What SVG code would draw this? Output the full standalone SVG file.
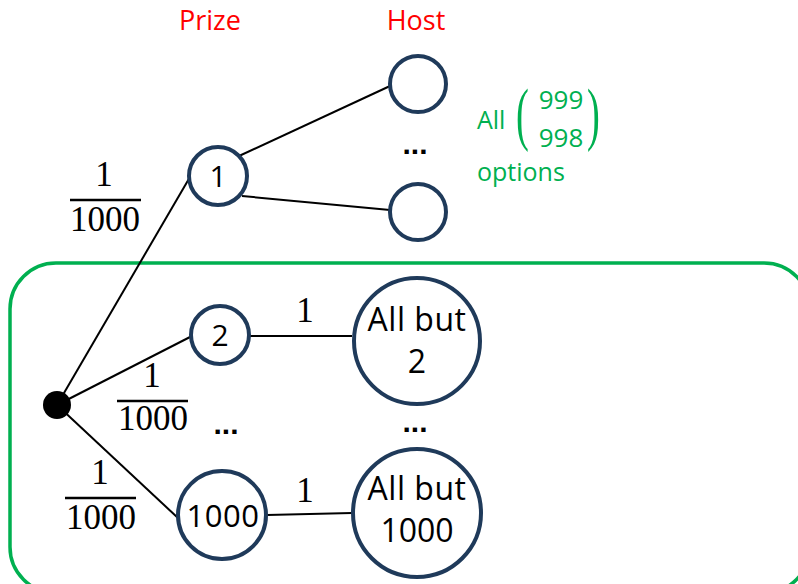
<svg xmlns="http://www.w3.org/2000/svg" width="798" height="584" viewBox="0 0 798 584">
  <style>
    .node { fill: #ffffff; stroke: #1f3a5a; stroke-width: 4; }
    .edge { stroke: #000000; stroke-width: 2; fill: none; }
    .lbl { font-family: "Open Sans", "Liberation Sans", sans-serif; fill: #000000; text-anchor: middle; }
    .head { font-family: "Open Sans", "Liberation Sans", sans-serif; fill: #ff0000; font-size: 27px; text-anchor: middle; }
    .math { font-family: "Liberation Serif", serif; fill: #000000; font-size: 35px; text-anchor: middle; }
    .bar { stroke: #000000; stroke-width: 2.5; }
    .dots { font-family: "Liberation Sans", sans-serif; font-weight: bold; font-size: 30px; text-anchor: middle; fill: #000000; }
    .green { font-family: "Open Sans", "Liberation Sans", sans-serif; fill: #00b050; }
    .paren { font-family: "Liberation Serif", serif; fill: #00b050; font-size: 70px; }
  </style>

  <!-- column headings -->
  <text class="head" x="210" y="30">Prize</text>
  <text class="head" x="416" y="30">Host</text>

  <!-- group frame for prize doors 2..1000 -->
  <rect x="10" y="263" width="800" height="330" rx="46" ry="46" fill="none" stroke="#00b050" stroke-width="3.5"/>

  <!-- connectors -->
  <g id="connectors">
    <line class="edge" x1="57" y1="405" x2="190" y2="177"/>
    <line class="edge" x1="57" y1="405" x2="192" y2="336"/>
    <line class="edge" x1="57" y1="405" x2="178" y2="518"/>
    <line class="edge" x1="239" y1="156" x2="390" y2="86"/>
    <line class="edge" x1="242" y1="196" x2="390" y2="210"/>
    <line class="edge" x1="248" y1="336" x2="352" y2="336"/>
    <line class="edge" x1="267" y1="515" x2="352" y2="513"/>
  </g>

  <!-- probabilities -->
  <g id="prob-1">
    <text class="math" x="104" y="186">1</text>
    <line class="bar" x1="70" y1="200" x2="141" y2="200"/>
    <text class="math" x="105" y="231">1000</text>
  </g>
  <g id="prob-2">
    <text class="math" x="152" y="387">1</text>
    <line class="bar" x1="117" y1="401" x2="188" y2="401"/>
    <text class="math" x="153" y="430">1000</text>
  </g>
  <g id="prob-1000">
    <text class="math" x="100" y="484">1</text>
    <line class="bar" x1="65" y1="498" x2="136" y2="498"/>
    <text class="math" x="101" y="529">1000</text>
  </g>
  <text class="math" x="305" y="322">1</text>
  <text class="math" x="305" y="502">1</text>

  <!-- nodes -->
  <g id="root"><circle cx="57" cy="405" r="14" fill="#000000"/></g>
  <g id="prize-1">
    <circle class="node" cx="218" cy="176" r="29"/>
    <text class="lbl" x="218" y="187" font-size="30">1</text>
  </g>
  <g id="host-a"><circle class="node" cx="418" cy="84" r="28"/></g>
  <g id="host-b"><circle class="node" cx="418" cy="212" r="28"/></g>
  <g id="prize-2">
    <circle class="node" cx="220" cy="335" r="29"/>
    <text class="lbl" x="220" y="346" font-size="30">2</text>
  </g>
  <g id="prize-1000">
    <circle class="node" cx="222" cy="515" r="44"/>
    <text class="lbl" x="223" y="527" font-size="31" letter-spacing="0.5">1000</text>
  </g>
  <g id="host-2">
    <circle class="node" cx="417" cy="341" r="63"/>
    <text class="lbl" x="417" y="331" font-size="32" letter-spacing="0.5">All but</text>
    <text class="lbl" x="417" y="373" font-size="32">2</text>
  </g>
  <g id="host-1000">
    <circle class="node" cx="417" cy="513" r="64"/>
    <text class="lbl" x="417" y="500" font-size="32" letter-spacing="0.5">All but</text>
    <text class="lbl" x="417" y="542" font-size="32">1000</text>
  </g>

  <!-- ellipses -->
  <text class="dots" x="415" y="154">...</text>
  <text class="dots" x="226" y="434">...</text>
  <text class="dots" x="415" y="432">...</text>

  <!-- option count -->
  <g id="options">
    <text class="green" x="477" y="129" style="font-size:25px">All</text>
    <text class="paren" transform="translate(516,137) scale(0.55,1)">(</text>
    <text class="green" x="561" y="109" text-anchor="middle" style="font-size:26px">999</text>
    <text class="green" x="561" y="147" text-anchor="middle" style="font-size:26px">998</text>
    <text class="paren" transform="translate(587,137) scale(0.55,1)">)</text>
    <text class="green" x="477" y="181" style="font-size:25px">options</text>
  </g>
</svg>
